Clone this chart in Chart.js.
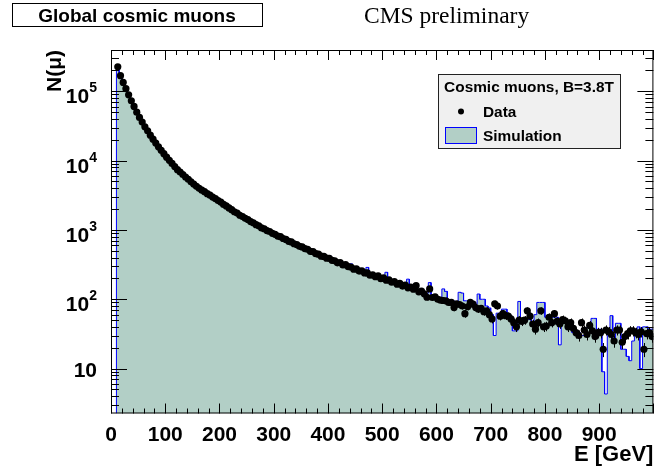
<!DOCTYPE html>
<html lang="en">
<head>
<meta charset="UTF-8">
<title>Global cosmic muons</title>
<script src="https://cdn.jsdelivr.net/npm/chart.js"></script>
<style>
  body { margin: 0; background: #fff; }
  #wrap { width: 657px; height: 468px; }
</style>
</head>
<body>
<div id="wrap"><canvas id="chart" width="657" height="468"></canvas></div>
<script>
// histogram binning (GeV)
const binStart = 10;
const binWidth = 5;

// measured muons per bin
const dataCounts = [
  226000, 168000, 134000, 109000, 89000, 73000, 60500, 50000, 42000, 36000,
  30800, 26900, 23300, 20400, 17900, 15800, 14100, 12600, 11200, 10100,
  9100, 8200, 7400, 6850, 6300, 5800, 5380, 4950, 4580, 4260,
  3980, 3750, 3560, 3340, 3170, 2980, 2830, 2650, 2520, 2330,
  2220, 2080, 1960, 1830, 1750, 1630, 1560, 1470, 1410, 1320,
  1270, 1190, 1150, 1070, 1040, 980, 950, 895, 865, 815,
  800, 752, 730, 685, 672, 632, 615, 580, 568, 538,
  525, 492, 485, 455, 447, 418, 415, 392, 390, 365,
  358, 335, 338, 312, 315, 295, 292, 272, 274, 255,
  256, 240, 240, 222, 225, 212, 218, 198, 203, 188,
  190, 176, 180, 165, 170, 155, 160, 146, 150, 140,
  157, 128, 131, 120, 107, 141, 106, 108, 100, 97,
  96, 95, 90, 90, 76, 86, 84, 80, 62, 78,
  90, 85, 76, 72, 74, 66, 68, 60, 52, 86,
  80, 57, 62, 58, 57, 52, 46, 40, 50, 48,
  50, 68, 57, 44, 37, 46, 68, 40, 41, 55,
  46, 62, 48, 44, 51, 49, 40, 46, 38, 33,
  30, 46, 36, 31, 42, 35, 29, 33, 33, 19,
  36, 34, 31, 25, 36, 36, 24, 29, 32, 35,
  35, 33, 31, 34, 19, 32, 33, 29
];

// simulated muons per bin (normalised)
const simCounts = [
  210000, 166000, 133000, 108000, 88500, 72500, 60000, 50000, 42000, 35800,
  30700, 26800, 23400, 20500, 18000, 15900, 14200, 12700, 11300, 10200,
  9150, 8250, 7450, 6900, 6350, 5850, 5400, 5000, 4620, 4300,
  4020, 3800, 3600, 3400, 3200, 3030, 2870, 2720, 2560, 2460,
  2260, 2130, 2000, 1870, 1780, 1680, 1590, 1500, 1430, 1360,
  1290, 1230, 1170, 1110, 1060, 1010, 970, 920, 880, 840,
  810, 775, 740, 705, 680, 650, 625, 600, 575, 555,
  530, 510, 490, 470, 452, 435, 420, 405, 425, 380,
  365, 350, 337, 325, 312, 300, 324, 284, 290, 265,
  262, 248, 288, 232, 226, 235, 215, 210, 205, 245,
  190, 182, 176, 170, 165, 160, 155, 195, 150, 145,
  142, 136, 132, 127, 122, 174, 114, 110, 106, 102,
  141, 130, 98, 96, 94, 92, 126, 123, 95, 95,
  90, 88, 85, 119, 100, 100, 80, 75, 60, 30,
  63, 63, 72, 72, 60, 55, 35, 35, 93, 50,
  50, 51, 51, 45, 60, 90, 90, 90, 55, 55,
  55, 55, 55, 22, 45, 45, 45, 45, 33, 33,
  33, 30, 30, 39, 39, 53, 53, 37, 37, 9,
  4.3, 38, 58, 27, 45, 45, 19, 19, 15, 13,
  25, 30, 40, 10, 40, 40, 37, 37
];

// axis ticks
const xMajorTicks = [0, 100, 200, 300, 400, 500, 600, 700, 800, 900, 1000];
const xTickLabels = ['0', '100', '200', '300', '400', '500', '600', '700', '800', '900'];
const yDecades = [1, 2, 3, 4, 5];
const xRange = [0, 1000];
const yRange = [2.25, 394000];

const FILL = '#b2cfc6';
const SANS = '"Liberation Sans", Arial, sans-serif';

// histogram outline as steps
const simOutline = [{ x: binStart, y: yRange[0] }];
simCounts.forEach((v, i) => {
  const lo = binStart + i * binWidth;
  simOutline.push({ x: lo, y: v }, { x: lo + binWidth, y: v });
});
const dataPoints = dataCounts.map((v, i) => ({ x: binStart + (i + 0.5) * binWidth, y: v }));

// error bars under the data points
const errorBars = {
  id: 'errorBars',
  beforeDatasetDraw(chart, args) {
    if (args.index !== 1) return;
    const { ctx, scales: { x, y } } = chart;
    ctx.save();
    ctx.strokeStyle = '#000';
    ctx.lineWidth = 1;
    dataCounts.forEach((n, i) => {
      const err = Math.sqrt(n);
      const px = Math.round(x.getPixelForValue(dataPoints[i].x)) + 0.5;
      ctx.beginPath();
      ctx.moveTo(px, y.getPixelForValue(n + err));
      ctx.lineTo(px, y.getPixelForValue(Math.max(n - err, yRange[0])));
      ctx.stroke();
    });
    ctx.restore();
  }
};

// frame, ticks, labels, legend, titles
const decorations = {
  id: 'decorations',
  afterDraw(chart) {
    const { ctx, chartArea: a, scales: { x, y } } = chart;
    ctx.save();
    ctx.strokeStyle = '#000';
    ctx.lineWidth = 1;
    ctx.strokeRect(a.left + 0.5, a.top + 0.5, a.right - a.left - 1, a.bottom - a.top - 1);

    ctx.beginPath();
    // x ticks, bottom and top
    for (let v = xRange[0]; v <= xRange[1]; v += 20) {
      const px = Math.round(x.getPixelForValue(v)) + 0.5;
      const len = v % 100 === 0 ? 10 : 5;
      ctx.moveTo(px, a.bottom); ctx.lineTo(px, a.bottom - len);
      ctx.moveTo(px, a.top); ctx.lineTo(px, a.top + len);
    }
    // y ticks, left and right
    for (let d = 0; d <= 5; d++) {
      for (let m = 1; m <= 9; m++) {
        const v = m * Math.pow(10, d);
        if (v < yRange[0] || v > yRange[1]) continue;
        const py = Math.round(y.getPixelForValue(v)) + 0.5;
        const len = m === 1 ? 16 : 8;
        ctx.moveTo(a.left, py); ctx.lineTo(a.left + len, py);
        ctx.moveTo(a.right, py); ctx.lineTo(a.right - len, py);
      }
    }
    ctx.stroke();

    ctx.fillStyle = '#000';
    // x tick labels
    ctx.font = 'bold 21px ' + SANS;
    ctx.textAlign = 'center';
    ctx.textBaseline = 'alphabetic';
    xTickLabels.forEach((lab, i) => {
      ctx.fillText(lab, x.getPixelForValue(xMajorTicks[i]), a.bottom + 27);
    });
    // y tick labels: 10, 10^2 ...
    yDecades.forEach(d => {
      const py = y.getPixelForValue(Math.pow(10, d));
      const right = 97;
      if (d === 1) {
        ctx.font = 'bold 21px ' + SANS;
        ctx.textAlign = 'right';
        ctx.fillText('10', right, py + 8);
        return;
      }
      ctx.font = 'bold 14px ' + SANS;
      ctx.textAlign = 'right';
      const ew = ctx.measureText(String(d)).width;
      ctx.fillText(String(d), right, py + 1);
      ctx.font = 'bold 21px ' + SANS;
      ctx.fillText('10', right - ew, py + 12);
    });
    // axis titles
    ctx.font = 'bold 22px ' + SANS;
    ctx.textAlign = 'right';
    ctx.fillText('E [GeV]', a.right, 461);
    ctx.save();
    ctx.translate(61, a.top);
    ctx.rotate(-Math.PI / 2);
    ctx.font = 'bold 21px ' + SANS;
    ctx.textAlign = 'right';
    ctx.fillText('N(\u03bc)', 0, 0);
    ctx.restore();

    // title box
    ctx.fillStyle = '#fff';
    ctx.fillRect(12, 3, 250, 24);
    ctx.strokeRect(12.5, 3.5, 250, 23);
    ctx.fillStyle = '#000';
    ctx.font = 'bold 19px ' + SANS;
    ctx.textAlign = 'center';
    ctx.fillText('Global cosmic muons', 137, 22);
    ctx.font = '23.5px "Liberation Serif", "Times New Roman", serif';
    ctx.textAlign = 'left';
    ctx.fillText('CMS preliminary', 364, 23);

    // legend
    ctx.fillStyle = '#f0f0f0';
    ctx.fillRect(438, 74, 182, 74);
    ctx.strokeStyle = '#222';
    ctx.strokeRect(438.5, 74.5, 182, 74);
    ctx.fillStyle = '#000';
    ctx.font = 'bold 15.4px ' + SANS;
    ctx.textAlign = 'center';
    ctx.fillText('Cosmic muons, B=3.8T', 529, 92);
    ctx.textAlign = 'left';
    ctx.fillText('Data', 483, 117);
    ctx.fillText('Simulation', 483, 141);
    ctx.beginPath();
    ctx.arc(461, 111.5, 3, 0, Math.PI * 2);
    ctx.fill();
    ctx.fillStyle = FILL;
    ctx.fillRect(445, 127, 32, 17);
    ctx.strokeStyle = '#0000ff';
    ctx.strokeRect(445.5, 127.5, 31, 16);
    ctx.restore();
  }
};

new Chart(document.getElementById('chart'), {
  type: 'line',
  data: {
    datasets: [{
      label: 'Simulation',
      data: simOutline,
      order: 2,
      borderColor: '#0000ff',
      borderWidth: 1,
      backgroundColor: FILL,
      fill: 'start',
      pointRadius: 0,
      tension: 0
    }, {
      label: 'Data',
      data: dataPoints,
      order: 1,
      showLine: false,
      pointRadius: 3.6,
      pointBackgroundColor: '#000',
      pointBorderWidth: 0,
      pointHoverRadius: 0
    }]
  },
  options: {
    responsive: false,
    animation: false,
    layout: { padding: { left: 111, right: 1.5, top: 50, bottom: 54.5 } },
    scales: {
      x: { type: 'linear', min: xRange[0], max: xRange[1], display: false },
      y: { type: 'logarithmic', min: yRange[0], max: yRange[1], display: false }
    },
    plugins: { legend: { display: false }, tooltip: { enabled: false } }
  },
  plugins: [errorBars, decorations]
});
</script>
</body>
</html>
